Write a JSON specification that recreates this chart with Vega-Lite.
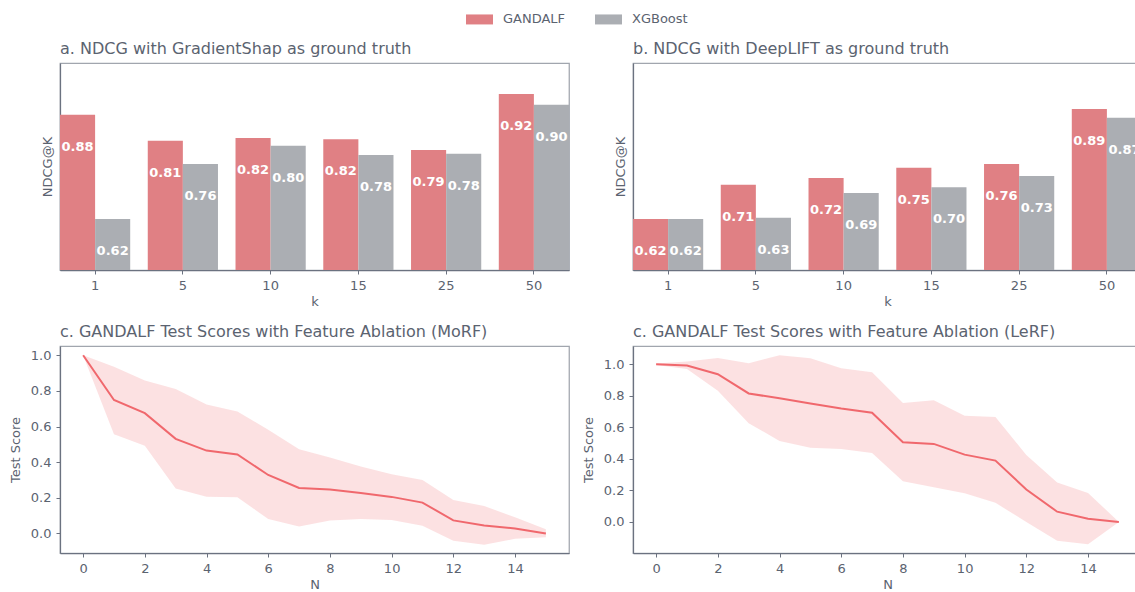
{
  "$schema": "https://vega.github.io/schema/vega-lite/v6.json",
  "autosize": {"type": "pad"},
  "padding": {"left": 8, "top": 5, "right": 0, "bottom": 0},
  "background": "white",
  "columns": 2,
  "bounds": "flush",
  "spacing": {"row": 76, "column": 64},
  "config": {
    "font": "DejaVu Sans",
    "view": {"stroke": "#a1a6ae", "strokeWidth": 1.25},
    "axis": {"labelFont": "DejaVu Sans", "labelFontSize": 13, "labelColor": "#5b6370", "titleFont": "DejaVu Sans", "titleFontSize": 13, "titleFontWeight": "normal", "titleColor": "#5b6370", "domainColor": "#6b7280", "domainWidth": 1.25, "tickColor": "#6b7280", "tickSize": 4, "labelPadding": 5, "grid": false},
    "title": {"font": "DejaVu Sans", "fontSize": 16, "fontWeight": "normal", "color": "#5b6370", "anchor": "start", "frame": "group", "baseline": "alphabetic", "offset": 6}
  },
  "datasets": {
    "bars": [
      {"panel": "a", "k": 1, "model": "GANDALF", "ndcg": 0.8751},
      {"panel": "a", "k": 1, "model": "XGBoost", "ndcg": 0.623},
      {"panel": "a", "k": 5, "model": "GANDALF", "ndcg": 0.812},
      {"panel": "a", "k": 5, "model": "XGBoost", "ndcg": 0.756},
      {"panel": "a", "k": 10, "model": "GANDALF", "ndcg": 0.819},
      {"panel": "a", "k": 10, "model": "XGBoost", "ndcg": 0.8},
      {"panel": "a", "k": 15, "model": "GANDALF", "ndcg": 0.816},
      {"panel": "a", "k": 15, "model": "XGBoost", "ndcg": 0.778},
      {"panel": "a", "k": 25, "model": "GANDALF", "ndcg": 0.79},
      {"panel": "a", "k": 25, "model": "XGBoost", "ndcg": 0.781},
      {"panel": "a", "k": 50, "model": "GANDALF", "ndcg": 0.9249},
      {"panel": "a", "k": 50, "model": "XGBoost", "ndcg": 0.899},
      {"panel": "b", "k": 1, "model": "GANDALF", "ndcg": 0.623},
      {"panel": "b", "k": 1, "model": "XGBoost", "ndcg": 0.623},
      {"panel": "b", "k": 5, "model": "GANDALF", "ndcg": 0.706},
      {"panel": "b", "k": 5, "model": "XGBoost", "ndcg": 0.626},
      {"panel": "b", "k": 10, "model": "GANDALF", "ndcg": 0.722},
      {"panel": "b", "k": 10, "model": "XGBoost", "ndcg": 0.686},
      {"panel": "b", "k": 15, "model": "GANDALF", "ndcg": 0.747},
      {"panel": "b", "k": 15, "model": "XGBoost", "ndcg": 0.7},
      {"panel": "b", "k": 25, "model": "GANDALF", "ndcg": 0.756},
      {"panel": "b", "k": 25, "model": "XGBoost", "ndcg": 0.727},
      {"panel": "b", "k": 50, "model": "GANDALF", "ndcg": 0.889},
      {"panel": "b", "k": 50, "model": "XGBoost", "ndcg": 0.868}
    ],
    "ablation": [
      {"order": "MoRF", "N": 0, "mean": 1.0, "lower": 1.0, "upper": 1.0},
      {"order": "MoRF", "N": 1, "mean": 0.749, "lower": 0.557, "upper": 0.936},
      {"order": "MoRF", "N": 2, "mean": 0.675, "lower": 0.492, "upper": 0.859},
      {"order": "MoRF", "N": 3, "mean": 0.531, "lower": 0.252, "upper": 0.811},
      {"order": "MoRF", "N": 4, "mean": 0.465, "lower": 0.206, "upper": 0.724},
      {"order": "MoRF", "N": 5, "mean": 0.443, "lower": 0.203, "upper": 0.685},
      {"order": "MoRF", "N": 6, "mean": 0.328, "lower": 0.081, "upper": 0.582},
      {"order": "MoRF", "N": 7, "mean": 0.255, "lower": 0.039, "upper": 0.473},
      {"order": "MoRF", "N": 8, "mean": 0.246, "lower": 0.073, "upper": 0.426},
      {"order": "MoRF", "N": 9, "mean": 0.227, "lower": 0.081, "upper": 0.375},
      {"order": "MoRF", "N": 10, "mean": 0.205, "lower": 0.075, "upper": 0.332},
      {"order": "MoRF", "N": 11, "mean": 0.173, "lower": 0.043, "upper": 0.3},
      {"order": "MoRF", "N": 12, "mean": 0.073, "lower": -0.041, "upper": 0.188},
      {"order": "MoRF", "N": 13, "mean": 0.045, "lower": -0.064, "upper": 0.154},
      {"order": "MoRF", "N": 14, "mean": 0.028, "lower": -0.03, "upper": 0.09},
      {"order": "MoRF", "N": 15, "mean": 0.0, "lower": -0.021, "upper": 0.023},
      {"order": "LeRF", "N": 0, "mean": 1.0, "lower": 0.995, "upper": 1.005},
      {"order": "LeRF", "N": 1, "mean": 0.992, "lower": 0.97, "upper": 1.017},
      {"order": "LeRF", "N": 2, "mean": 0.937, "lower": 0.832, "upper": 1.04},
      {"order": "LeRF", "N": 3, "mean": 0.815, "lower": 0.626, "upper": 1.007},
      {"order": "LeRF", "N": 4, "mean": 0.784, "lower": 0.514, "upper": 1.058},
      {"order": "LeRF", "N": 5, "mean": 0.751, "lower": 0.471, "upper": 1.038},
      {"order": "LeRF", "N": 6, "mean": 0.719, "lower": 0.463, "upper": 0.975},
      {"order": "LeRF", "N": 7, "mean": 0.693, "lower": 0.438, "upper": 0.949},
      {"order": "LeRF", "N": 8, "mean": 0.505, "lower": 0.258, "upper": 0.755},
      {"order": "LeRF", "N": 9, "mean": 0.495, "lower": 0.22, "upper": 0.772},
      {"order": "LeRF", "N": 10, "mean": 0.427, "lower": 0.182, "upper": 0.674},
      {"order": "LeRF", "N": 11, "mean": 0.389, "lower": 0.121, "upper": 0.666},
      {"order": "LeRF", "N": 12, "mean": 0.206, "lower": 0.0, "upper": 0.425},
      {"order": "LeRF", "N": 13, "mean": 0.065, "lower": -0.119, "upper": 0.25},
      {"order": "LeRF", "N": 14, "mean": 0.02, "lower": -0.141, "upper": 0.184},
      {"order": "LeRF", "N": 15, "mean": 0.0, "lower": 0.0, "upper": 0.0}
    ]
  },
  "concat": [
    {
      "title": "a. NDCG with GradientShap as ground truth",
      "width": 509, "height": 207,
      "data": {"name": "bars"},
      "transform": [{"filter": "datum.panel === 'a'"}],
      "encoding": {
        "x": {"field": "k", "type": "ordinal", "scale": {"paddingInner": 0.2, "paddingOuter": 0}, "axis": {"labelAngle": 0, "title": "k", "titlePadding": 3}},
        "xOffset": {"field": "model", "type": "nominal", "scale": {"paddingInner": 0, "paddingOuter": 0}},
        "y": {"field": "ndcg", "type": "quantitative", "scale": {"domain": [0.5, 1.0], "nice": false, "zero": false}, "axis": {"title": "NDCG@K", "labels": false, "ticks": false, "titlePadding": 6}}
      },
      "layer": [
        {"mark": {"type": "bar", "clip": true}, "encoding": {"color": {"field": "model", "type": "nominal", "scale": {"domain": ["GANDALF", "XGBoost"], "range": ["#e08084", "#abaeb3"]}, "legend": {"orient": "none", "legendX": 406, "legendY": -57.3, "direction": "horizontal", "title": null, "symbolType": "M-1,-0.37H1V0.37H-1Z", "symbolSize": 729, "symbolStrokeWidth": 0, "symbolOpacity": 1, "labelFont": "DejaVu Sans", "labelFontSize": 13, "labelColor": "#5b6370", "labelOffset": 10, "columnPadding": 29, "padding": 0}}}},
        {"mark": {"type": "text", "dy": 32, "baseline": "middle", "align": "center", "color": "white", "font": "DejaVu Sans", "fontWeight": "bold", "fontSize": 13}, "encoding": {"text": {"field": "ndcg", "type": "quantitative", "format": ".2f"}}}
      ]
    },
    {
      "title": "b. NDCG with DeepLIFT as ground truth",
      "width": 509, "height": 207,
      "data": {"name": "bars"},
      "transform": [{"filter": "datum.panel === 'b'"}],
      "encoding": {
        "x": {"field": "k", "type": "ordinal", "scale": {"paddingInner": 0.2, "paddingOuter": 0}, "axis": {"labelAngle": 0, "title": "k", "titlePadding": 3}},
        "xOffset": {"field": "model", "type": "nominal", "scale": {"paddingInner": 0, "paddingOuter": 0}},
        "y": {"field": "ndcg", "type": "quantitative", "scale": {"domain": [0.5, 1.0], "nice": false, "zero": false}, "axis": {"title": "NDCG@K", "labels": false, "ticks": false, "titlePadding": 6}}
      },
      "layer": [
        {"mark": {"type": "bar", "clip": true}, "encoding": {"color": {"field": "model", "type": "nominal", "legend": null}}},
        {"mark": {"type": "text", "dy": 32, "baseline": "middle", "align": "center", "color": "white", "font": "DejaVu Sans", "fontWeight": "bold", "fontSize": 13}, "encoding": {"text": {"field": "ndcg", "type": "quantitative", "format": ".2f"}}}
      ]
    },
    {
      "title": "c. GANDALF Test Scores with Feature Ablation (MoRF)",
      "width": 509, "height": 207,
      "data": {"name": "ablation"},
      "transform": [{"filter": "datum.order === 'MoRF'"}],
      "encoding": {
        "x": {"field": "N", "type": "quantitative", "scale": {"domain": [-0.75, 15.75], "nice": false, "zero": false}, "axis": {"values": [0, 2, 4, 6, 8, 10, 12, 14], "format": "d", "title": "N", "titlePadding": 3}}
      },
      "layer": [
        {"mark": {"type": "area", "color": "#f0686d", "opacity": 0.2}, "encoding": {"y": {"field": "lower", "type": "quantitative", "scale": {"domain": [-0.11, 1.052], "nice": false, "zero": false}, "axis": {"values": [0, 0.2, 0.4, 0.6, 0.8, 1.0], "format": ".1f", "title": "Test Score", "titlePadding": 8}}, "y2": {"field": "upper"}}},
        {"mark": {"type": "line", "color": "#f0686d", "strokeWidth": 2}, "encoding": {"y": {"field": "mean", "type": "quantitative", "axis": {"values": [0, 0.2, 0.4, 0.6, 0.8, 1.0], "format": ".1f", "title": "Test Score", "titlePadding": 8}}}}
      ]
    },
    {
      "title": "c. GANDALF Test Scores with Feature Ablation (LeRF)",
      "width": 509, "height": 207,
      "data": {"name": "ablation"},
      "transform": [{"filter": "datum.order === 'LeRF'"}],
      "encoding": {
        "x": {"field": "N", "type": "quantitative", "scale": {"domain": [-0.75, 15.75], "nice": false, "zero": false}, "axis": {"values": [0, 2, 4, 6, 8, 10, 12, 14], "format": "d", "title": "N", "titlePadding": 3}}
      },
      "layer": [
        {"mark": {"type": "area", "color": "#f0686d", "opacity": 0.2}, "encoding": {"y": {"field": "lower", "type": "quantitative", "scale": {"domain": [-0.197, 1.116], "nice": false, "zero": false}, "axis": {"values": [0, 0.2, 0.4, 0.6, 0.8, 1.0], "format": ".1f", "title": "Test Score", "titlePadding": 8}}, "y2": {"field": "upper"}}},
        {"mark": {"type": "line", "color": "#f0686d", "strokeWidth": 2}, "encoding": {"y": {"field": "mean", "type": "quantitative", "axis": {"values": [0, 0.2, 0.4, 0.6, 0.8, 1.0], "format": ".1f", "title": "Test Score", "titlePadding": 8}}}}
      ]
    }
  ]
}
